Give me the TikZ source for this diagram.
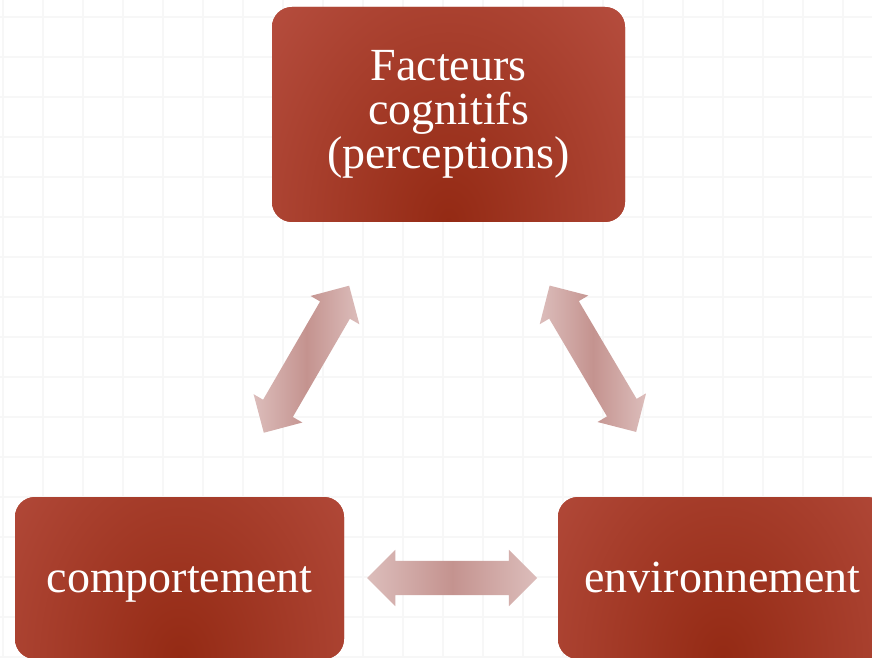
\documentclass[tikz,border=0pt]{standalone}
\usepackage{fontspec}
\setmainfont{Liberation Serif}
\usetikzlibrary{shapes.arrows}

\definecolor{boxedge}{HTML}{BB5345}
\definecolor{boxdeep}{HTML}{942A14}
\definecolor{arrowend}{HTML}{DCBDBB}
\definecolor{arrowmid}{HTML}{C4938F}
\definecolor{gridgray}{HTML}{F7F7F7}

\tikzset{
  factor/.style={rounded corners=20pt, fill=boxedge, text=white, align=center,
    minimum width=329pt, minimum height=162pt,
    font=\fontsize{46}{44}\selectfont,
    path picture={\shade[inner color=boxdeep, outer color=boxedge]
      (path picture bounding box.south) ellipse [x radius=280pt, y radius=380pt];}},
  oneline/.style={text height=38pt, text depth=10pt},
  link/.style={double arrow, draw=none, sloped, minimum height=170pt,
    inner sep=0pt, inner ysep=17pt,
    double arrow head extend=11pt, double arrow tip angle=90,
    left color=arrowend, right color=arrowend, middle color=arrowmid}
}

\begin{document}
\begin{tikzpicture}[x=1pt, y=1pt]
  \useasboundingbox (0,0) rectangle (872,657);
  \clip (0,0) rectangle (872,657);
  \fill[white] (0,0) rectangle (872,657);
  \draw[gridgray, line width=2.4pt, step=40pt, xshift=3pt] (-43,0) grid (872,657);

  \node[factor, minimum width=353pt, minimum height=215pt] (cog) at (448.5,542.5) {Facteurs\\cognitifs\\(perceptions)};
  \node[factor, oneline] (comp) at (179.5,79) {comportement};
  \node[factor, oneline] (env) at (722.5,79) {environnement};

  \path (cog.center) -- node[link, pos=.528] (cogcomp) {} (comp.center);
  \path (cog.center) -- node[link, pos=.527] (cogenv) {} (env.center);
  \path (comp.center) -- node[link, pos=.502] (compenv) {} (env.center);
\end{tikzpicture}
\end{document}
